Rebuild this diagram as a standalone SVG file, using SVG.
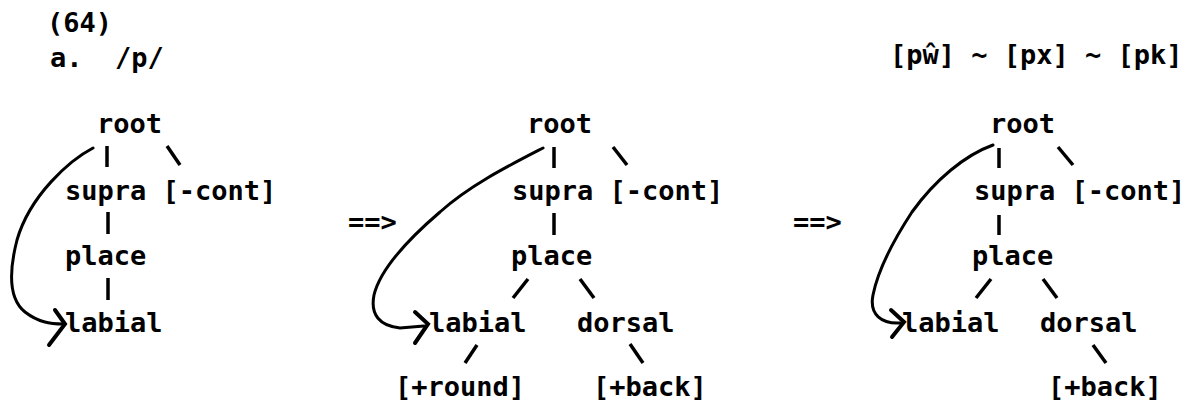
<svg xmlns="http://www.w3.org/2000/svg" width="1195" height="401" viewBox="0 0 1195 401">
<style>
text{font-family:"DejaVu Sans Mono","Liberation Mono",monospace;font-weight:bold;font-size:27px;fill:#000}
.c line{stroke:#000;stroke-width:3.5;stroke-linecap:butt}
.arc{fill:none;stroke:#000;stroke-width:3;stroke-linecap:round}
.head{fill:none;stroke:#000;stroke-width:4;stroke-linecap:round;stroke-linejoin:miter}
</style>
<rect width="1195" height="401" fill="#fff"/>
<g id="header">
<text x="47" y="32">(64)</text>
<text x="50" y="67" xml:space="preserve">a.  /p/</text>
<text x="890" y="64" xml:space="preserve">[pŵ] ~ [px] ~ [pk]</text>
</g>
<g id="tree1">
<g id="t1-root"><text x="97" y="133">root</text></g>
<g id="t1-supra"><text x="65" y="200" xml:space="preserve">supra [-cont]</text></g>
<g id="t1-place"><text x="65" y="265">place</text></g>
<g id="t1-labial"><text x="65" y="332">labial</text></g>
</g>
<g id="arrow1"><text x="348" y="231">==&gt;</text></g>
<g id="tree2">
<g id="t2-root"><text x="527" y="133">root</text></g>
<g id="t2-supra"><text x="512" y="200" xml:space="preserve">supra [-cont]</text></g>
<g id="t2-place"><text x="511" y="265">place</text></g>
<g id="t2-labial"><text x="429" y="332">labial</text></g>
<g id="t2-dorsal"><text x="577" y="332">dorsal</text></g>
<g id="t2-round"><text x="395" y="396">[+round]</text></g>
<g id="t2-back"><text x="593" y="396">[+back]</text></g>
</g>
<g id="arrow2"><text x="793" y="231">==&gt;</text></g>
<g id="tree3">
<g id="t3-root"><text x="990" y="133">root</text></g>
<g id="t3-supra"><text x="974" y="200" xml:space="preserve">supra [-cont]</text></g>
<g id="t3-place"><text x="972" y="265">place</text></g>
<g id="t3-labial"><text x="902" y="332">labial</text></g>
<g id="t3-dorsal"><text x="1040" y="332">dorsal</text></g>
<g id="t3-back"><text x="1048" y="396">[+back]</text></g>
</g>
<g id="connectors" class="c">
<line x1="107" y1="146" x2="107" y2="167"/>
<line x1="167" y1="146" x2="180" y2="165"/>
<line x1="108" y1="212" x2="108" y2="234"/>
<line x1="108" y1="278" x2="108" y2="300"/>
<line x1="554" y1="147" x2="554" y2="168"/>
<line x1="613" y1="147" x2="627" y2="165"/>
<line x1="554" y1="213" x2="554" y2="235"/>
<line x1="528" y1="279" x2="513" y2="298"/>
<line x1="580" y1="279" x2="594" y2="298"/>
<line x1="477" y1="345" x2="465" y2="363"/>
<line x1="630" y1="344" x2="643" y2="363"/>
<line x1="999" y1="148" x2="999" y2="168"/>
<line x1="1058" y1="147" x2="1073" y2="165"/>
<line x1="999" y1="215" x2="999" y2="235"/>
<line x1="991" y1="279" x2="976" y2="298"/>
<line x1="1043" y1="279" x2="1057" y2="298"/>
<line x1="1093" y1="345" x2="1106" y2="363"/>
<path class="arc" d="M93,148 C70,160 30,195 17,240 C8,275 10,300 25,312 C38,322 50,324 63,324"/>
<polyline class="head" points="55,310 65,324 49,345"/>
<path class="arc" d="M543,148 C510,165 470,185 440,212 C405,242 380,270 374,295 C370,315 380,326 400,328 L424,326"/>
<polyline class="head" points="415,312 428,324 415,343"/>
<path class="arc" d="M993,145 C965,155 935,180 912,212 C895,238 878,270 873,295 C869,315 882,324 900,323"/>
<polyline class="head" points="891,310 904,322 892,337"/>
</g>
</svg>
